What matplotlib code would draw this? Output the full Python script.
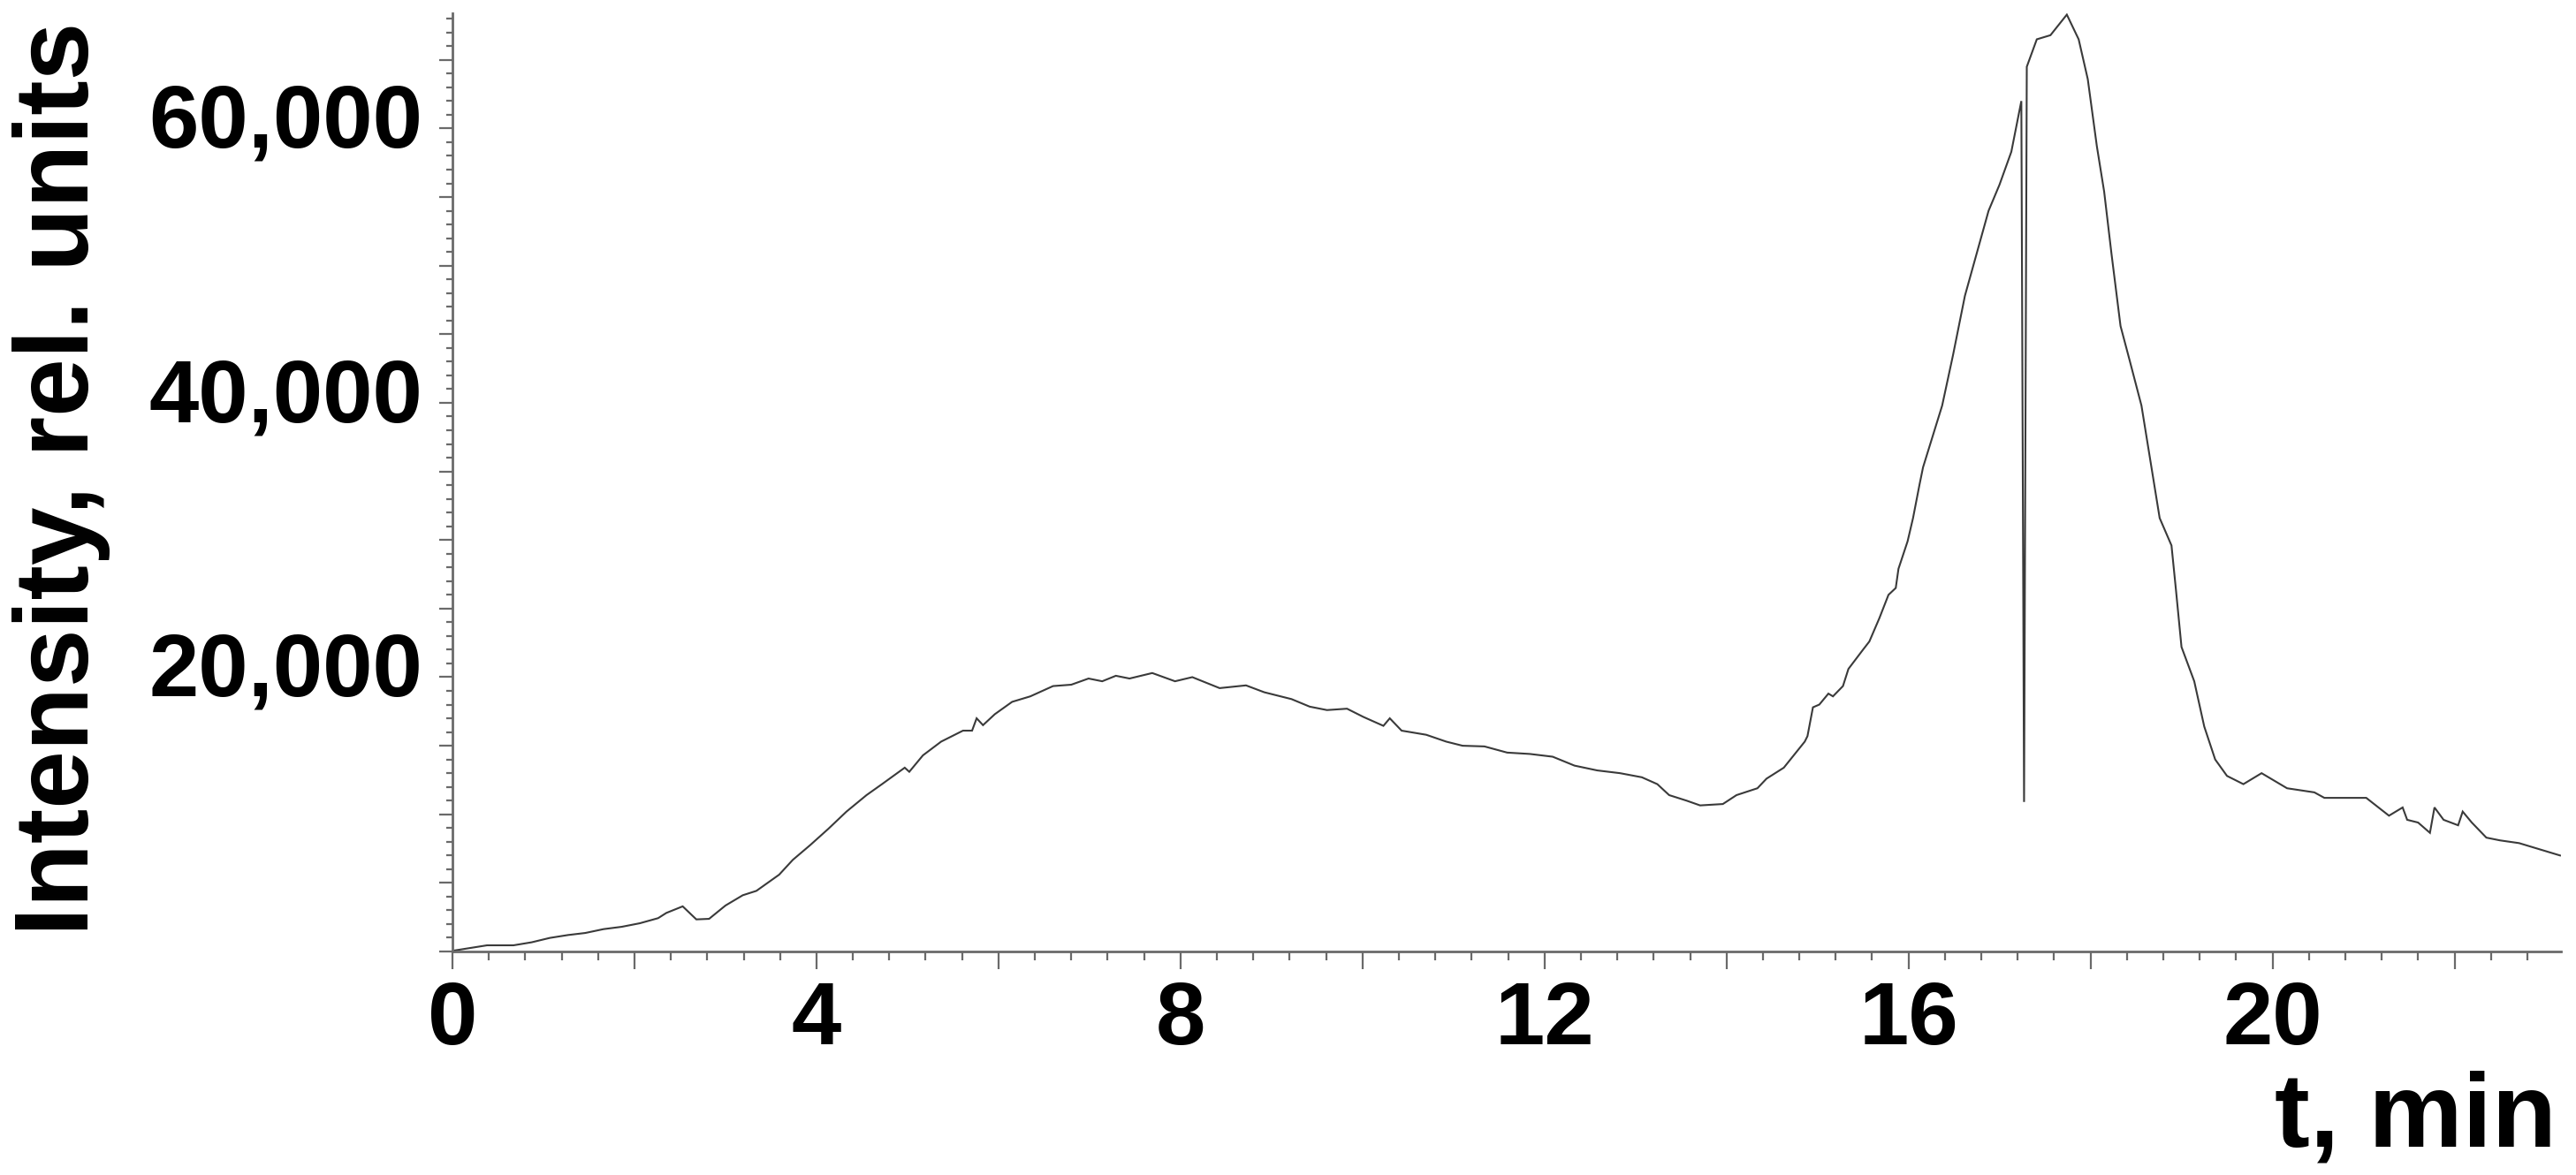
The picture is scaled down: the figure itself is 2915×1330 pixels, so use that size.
import matplotlib

matplotlib.use("Agg")
import matplotlib.pyplot as plt
import matplotlib.transforms as mtransforms
from matplotlib.ticker import FuncFormatter, MultipleLocator

# Chromatogram: time (min) and intensity (thousands, rel. units)
time_min = [
    0.00, 0.28, 0.38, 0.67, 0.87, 1.07, 1.27, 1.46, 1.66, 1.86, 2.06, 2.26, 2.35,
    2.53, 2.68, 2.82, 3.00, 3.19, 3.34, 3.59, 3.74, 3.93, 4.13, 4.33, 4.55, 4.72,
    4.97, 5.02, 5.17, 5.37, 5.61, 5.71, 5.76, 5.83, 5.96, 6.15, 6.35, 6.60, 6.80,
    6.99, 7.14, 7.29, 7.44, 7.69, 7.94, 8.13, 8.43, 8.72, 8.92, 9.22, 9.42, 9.61,
    9.83, 10.01, 10.23, 10.30, 10.43, 10.70, 10.92, 11.10, 11.34, 11.59, 11.84,
    12.09, 12.33, 12.58, 12.83, 13.07, 13.24, 13.37, 13.56, 13.71, 13.96, 14.11,
    14.34, 14.44, 14.63, 14.86, 14.89, 14.95, 15.02, 15.12, 15.17, 15.28, 15.34,
    15.50, 15.57, 15.68, 15.78, 15.86, 15.89, 15.99, 16.05, 16.12, 16.16, 16.37,
    16.49, 16.62, 16.75, 16.88, 17.00, 17.13, 17.24, 17.27, 17.30, 17.41, 17.56,
    17.74, 17.87, 17.97, 18.07, 18.15, 18.23, 18.33, 18.43, 18.56, 18.66, 18.76,
    18.89, 18.94, 19.00, 19.14, 19.25, 19.37, 19.50, 19.68, 19.88, 20.16, 20.46,
    20.57, 21.03, 21.28, 21.43, 21.48, 21.60, 21.73, 21.78, 21.88, 22.04, 22.09,
    22.19, 22.35, 22.50, 22.71, 22.91, 23.16,
]
intensity_k = [
    0.05, 0.34, 0.45, 0.45, 0.67, 0.99, 1.20, 1.35, 1.63, 1.80, 2.06, 2.43, 2.81,
    3.29, 2.34, 2.38, 3.35, 4.10, 4.42, 5.60, 6.68, 7.75, 8.94, 10.2, 11.4, 12.2,
    13.4, 13.1, 14.3, 15.3, 16.1, 16.1, 17.0, 16.5, 17.3, 18.2, 18.6, 19.35, 19.45,
    19.9, 19.7, 20.1, 19.9, 20.3, 19.7, 20.0, 19.2, 19.4, 18.9, 18.4, 17.85, 17.6,
    17.7, 17.1, 16.45, 17.0, 16.1, 15.8, 15.3, 15.0, 14.95, 14.5, 14.4,
    14.2, 13.55, 13.2, 13.0, 12.7, 12.2, 11.4, 11.0, 10.65, 10.75, 11.4,
    11.9, 12.6, 13.4, 15.3, 15.7, 17.8, 18.0, 18.8, 18.6, 19.35, 20.6,
    22.0, 22.6, 24.3, 26.0, 26.5, 27.9, 29.9, 31.6, 34.0, 35.3, 39.8,
    43.5, 47.8, 50.9, 54.0, 55.9, 58.3, 62.0, 10.9, 64.5, 66.5, 66.8,
    68.3, 66.5, 63.6, 58.7, 55.4, 50.9, 45.6, 43.1, 39.8, 35.7, 31.6,
    29.6, 26.3, 22.2, 19.7, 16.4, 14.0, 12.8, 12.2, 13.0, 11.9, 11.6,
    11.2, 11.2, 9.9, 10.5, 9.6, 9.4, 8.65, 10.5, 9.6, 9.2, 10.2,
    9.4, 8.3, 8.1, 7.9, 7.5, 7.0,
]
intensity = [v * 1000 for v in intensity_k]

x_labelled = [0, 4, 8, 12, 16, 20]
y_labelled = [20000, 40000, 60000]

AXIS = "#6a6a6a"
LINE = "#3a3a3a"

plt.rcParams["font.family"] = ["Liberation Sans", "DejaVu Sans"]
plt.rcParams["font.weight"] = "bold"

fig = plt.figure(figsize=(29.15, 13.30), dpi=100)
ax = fig.add_axes([512 / 2915, 1 - 1077 / 1330, (2898 - 512) / 2915, (1077 - 15) / 1330])

ax.plot(time_min, intensity, color=LINE, linewidth=1.5, solid_joinstyle="miter")

ax.set_xlim(0, 23.17)
ax.set_ylim(0, 68400)

for s in ("top", "right"):
    ax.spines[s].set_visible(False)
for s in ("left", "bottom"):
    ax.spines[s].set_color(AXIS)
    ax.spines[s].set_linewidth(2.0)

ax.xaxis.set_major_locator(MultipleLocator(2))
ax.xaxis.set_minor_locator(MultipleLocator(0.4))
ax.yaxis.set_major_locator(MultipleLocator(5000))
ax.yaxis.set_minor_locator(MultipleLocator(1000))

ax.xaxis.set_major_formatter(FuncFormatter(
    lambda v, p: f"{v:.0f}" if any(abs(v - k) < 1e-6 for k in x_labelled) else ""))
ax.yaxis.set_major_formatter(FuncFormatter(
    lambda v, p: f"{v:,.0f}" if any(abs(v - k) < 1e-6 for k in y_labelled) else ""))

ax.tick_params(axis="x", which="major", direction="out", length=14.4, width=1.6,
               color=AXIS, pad=8.5, labelsize=73)
ax.tick_params(axis="x", which="minor", direction="out", length=7.2, width=1.6, color=AXIS)
ax.tick_params(axis="y", which="major", direction="out", length=10.8, width=1.6,
               color=AXIS, pad=13.5, labelsize=73)
ax.tick_params(axis="y", which="minor", direction="out", length=5.0, width=1.6, color=AXIS)

for lbl in ax.get_xticklabels() + ax.get_yticklabels():
    lbl.set_fontweight("bold")
shift = mtransforms.ScaledTranslation(0, 15 / 100, fig.dpi_scale_trans)
for lbl in ax.get_yticklabels():
    lbl.set_transform(lbl.get_transform() + shift)

fig.text(100 / 2915, 1 - 542 / 1330, "Intensity, rel. units", rotation=90,
         rotation_mode="anchor", ha="center", va="baseline",
         fontsize=85, fontweight="bold")
fig.text(2893 / 2915, 1 - 1298 / 1330, "t, min", ha="right", va="baseline",
         fontsize=86, fontweight="bold")

fig.savefig("out.png", dpi=100, facecolor="white")
plt.close(fig)
